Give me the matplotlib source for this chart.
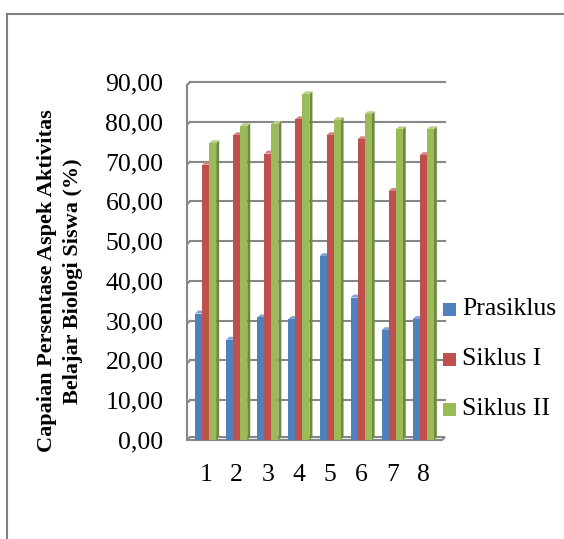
import numpy as np
import matplotlib.pyplot as plt
from matplotlib.patches import Rectangle, Polygon
from matplotlib.lines import Line2D

plt.rcParams['font.family'] = ['Liberation Serif', 'DejaVu Serif']

kategori = ['1', '2', '3', '4', '5', '6', '7', '8']
prasiklus = [31.8, 25.2, 30.8, 30.4, 46.2, 35.8, 27.6, 30.4]
siklus1 = [69.2, 76.6, 72.0, 80.6, 76.6, 75.6, 62.6, 71.6]
siklus2 = [74.6, 78.9, 79.4, 86.9, 80.4, 81.9, 78.1, 78.1]

seri = ['Prasiklus', 'Siklus I', 'Siklus II']
warna = ['#4F81BD', '#C0504D', '#9BBB59']
warna_sisi = ['#3A5F8C', '#8E3B39', '#6F8A3E']
warna_atas = ['#7FA3D2', '#D58482', '#B9D28A']

fig = plt.figure(figsize=(5.64, 5.39), dpi=100)
ax = fig.add_axes([187 / 564, 1 - 440 / 539, 255 / 564, 358 / 539])
ax.set_xlim(0.4, 8.6)
ax.set_ylim(0, 90)

# ukuran efek 3D dalam satuan data
px_x = 8.2 / 255
px_y = 90 / 358
dx, dy = 3 * px_x, 3 * px_y
lebar = 7 * px_x

# garis grid dan dinding kiri
for v in np.arange(10, 91, 10):
    ax.plot([0.4, 0.4 + dx], [v - dy, v], color='#878787', lw=1.5,
            solid_capstyle='round', zorder=1, clip_on=False)
    ax.plot([0.4 + dx, 8.6 + dx], [v, v], color='#878787', lw=1.5,
            zorder=1, clip_on=False)
ax.plot([0.4, 0.4], [0, 90 - dy], color='#878787', lw=1.5, zorder=1,
        clip_on=False)

# lantai
lantai = Polygon([(0.4, 0), (8.6, 0), (8.6 + dx, dy), (0.4 + dx, dy)],
                 closed=True, facecolor='#f4f4f4', edgecolor='#878787',
                 lw=1.5, zorder=1, clip_on=False)
ax.add_patch(lantai)

data = [prasiklus, siklus1, siklus2]
posisi = np.arange(1, len(kategori) + 1)
for i, nilai in enumerate(data):
    for x0, v in zip(posisi, nilai):
        x = x0 - 1.5 * lebar + i * lebar
        ax.add_patch(Polygon([(x + lebar, 0), (x + lebar + dx, dy),
                              (x + lebar + dx, v + dy), (x + lebar, v)],
                             closed=True, facecolor=warna_sisi[i],
                             lw=0, zorder=2 + i))
        ax.add_patch(Polygon([(x, v), (x + dx, v + dy),
                              (x + lebar + dx, v + dy), (x + lebar, v)],
                             closed=True, facecolor=warna_atas[i],
                             lw=0, zorder=2 + i))
        ax.add_patch(Rectangle((x, 0), lebar, v, facecolor=warna[i],
                               lw=0, zorder=2 + i))

for s in ax.spines.values():
    s.set_visible(False)
ax.set_facecolor('none')

ax.set_xticks(posisi)
ax.set_xticklabels(kategori)
ax.set_yticks(np.arange(0, 91, 10))
ax.set_yticklabels([f'{v:.2f}'.replace('.', ',') for v in np.arange(0, 91, 10)])
ax.tick_params(axis='both', length=0, labelsize=18.5)
ax.tick_params(axis='y', pad=17)
ax.tick_params(axis='x', pad=17)

fig.text(0.084, 0.479, 'Capaian Persentase Aspek Aktivitas',
         rotation=90, ha='center', va='center', fontsize=16,
         fontweight='bold')
fig.text(0.129, 0.479, 'Belajar Biologi Siswa (%)',
         rotation=90, ha='center', va='center', fontsize=16,
         fontweight='bold')

# legenda
for i, nama in enumerate(seri):
    yc = 309 + i * 50
    fig.patches.append(Rectangle((443 / 564, 1 - (yc + 6.5) / 539),
                                 13 / 564, 13 / 539, facecolor=warna[i],
                                 lw=0, transform=fig.transFigure))
    fig.text(462 / 564, 1 - yc / 539, nama, ha='left', va='center',
             fontsize=18.5)

# bingkai luar
fig.add_artist(Line2D([7 / 564, 1], [1 - 14 / 539, 1 - 14 / 539],
                      color='#808080', lw=1.5, transform=fig.transFigure))
fig.add_artist(Line2D([7 / 564, 7 / 564], [0, 1 - 14 / 539],
                      color='#808080', lw=1.5, transform=fig.transFigure))

fig.savefig('out.png', dpi=100)
